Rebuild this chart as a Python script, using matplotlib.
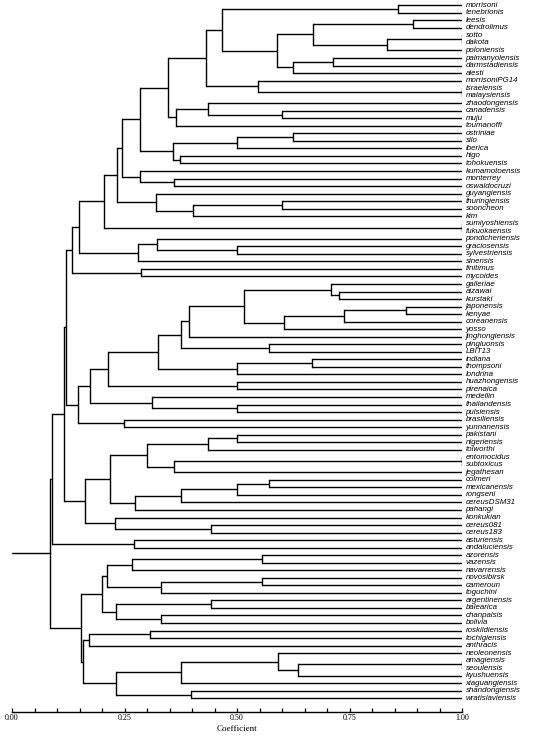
import matplotlib.pyplot as plt
from matplotlib.ticker import MultipleLocator

# leaf order, top to bottom
leaves = ["morrisoni", "tenebrionis", "leesis", "dendrolimus", "sotto", "dakota", "poloniensis",
          "palmanyolensis", "darmstadiensis", "alesti", "morrisoniPG14", "israelensis", "malaysiensis",
          "zhaodongensis", "canadensis", "muju", "toumanoffi", "ostriniae", "silo", "iberica", "higo",
          "tohokuensis", "kumamotoensis", "monterrey", "oswaldocruzi", "guyangiensis", "thuringiensis",
          "sooncheon", "kim", "sumiyoshiensis", "fukuokaensis", "pondicheriensis", "graciosensis",
          "sylvestriensis", "sinensis", "finitimus", "mycoides", "galleriae", "aizawai", "kurstaki",
          "japonensis", "kenyae", "coreanensis", "yosso", "jinghongiensis", "pingluonsis", "LBIT13",
          "indiana", "thompsoni", "londrina", "huazhongensis", "pirenaica", "medellin", "thailandensis",
          "pulsiensis", "brasiliensis", "yunnanensis", "pakistani", "nigeriensis", "tolworthi",
          "entomocidus", "subtoxicus", "jegathesan", "colmeri", "mexicanensis", "rongseni",
          "cereusDSM31", "pahangi", "konkukian", "cereus081", "cereus183", "asturiensis",
          "andaluciensis", "azorensis", "vazensis", "navarrensis", "novosibirsk", "cameroun",
          "toguchini", "argentinensis", "balearica", "chanpaisis", "bolivia", "roskildiensis",
          "tochigiensis", "anthracis", "neoleonensis", "amagiensis", "seoulensis", "kyushuensis",
          "xiaguangiensis", "shandongiensis", "wratislaviensis"]

# (node, left child, right child, similarity coefficient)
merges = [
    ("m1", "morrisoni", "tenebrionis", 0.857),
    ("m2", "leesis", "dendrolimus", 0.890),
    ("m3", "sotto", "dakota", 1.0),
    ("m4", "m3", "poloniensis", 0.833),
    ("m5", "m2", "m4", 0.668),
    ("m6", "palmanyolensis", "darmstadiensis", 0.713),
    ("m7", "m6", "alesti", 0.624),
    ("m8", "m5", "m7", 0.588),
    ("m9", "m1", "m8", 0.467),
    ("m10", "israelensis", "malaysiensis", 1.0),
    ("m11", "morrisoniPG14", "m10", 0.546),
    ("m12", "m9", "m11", 0.430),
    ("m13", "canadensis", "muju", 0.601),
    ("m14", "zhaodongensis", "m13", 0.436),
    ("m15", "m14", "toumanoffi", 0.364),
    ("m16", "m12", "m15", 0.347),
    ("m17", "ostriniae", "silo", 0.624),
    ("m18", "m17", "iberica", 0.499),
    ("m19", "higo", "tohokuensis", 0.373),
    ("m20", "m18", "m19", 0.357),
    ("m21", "m16", "m20", 0.284),
    ("m22", "monterrey", "oswaldocruzi", 0.361),
    ("m23", "kumamotoensis", "m22", 0.284),
    ("m24", "m21", "m23", 0.245),
    ("m25", "thuringiensis", "sooncheon", 0.601),
    ("m26", "m25", "kim", 0.402),
    ("m27", "guyangiensis", "m26", 0.321),
    ("m28", "m24", "m27", 0.234),
    ("m29", "sumiyoshiensis", "fukuokaensis", 1.0),
    ("m30", "m28", "m29", 0.205),
    ("m31", "graciosensis", "sylvestriensis", 0.499),
    ("m32", "pondicheriensis", "m31", 0.322),
    ("m33", "m32", "sinensis", 0.279),
    ("m34", "m30", "m33", 0.149),
    ("m35", "finitimus", "mycoides", 0.286),
    ("m36", "m34", "m35", 0.133),
    ("m37", "aizawai", "kurstaki", 0.727),
    ("m38", "galleriae", "m37", 0.709),
    ("m39", "japonensis", "kenyae", 0.875),
    ("m40", "m39", "coreanensis", 0.737),
    ("m41", "m40", "yosso", 0.604),
    ("m42", "m38", "m41", 0.516),
    ("m43", "m42", "jinghongiensis", 0.394),
    ("m44", "pingluonsis", "LBIT13", 0.570),
    ("m45", "m43", "m44", 0.376),
    ("m46", "indiana", "thompsoni", 0.667),
    ("m47", "m46", "londrina", 0.499),
    ("m48", "m45", "m47", 0.324),
    ("m49", "huazhongensis", "pirenaica", 0.499),
    ("m50", "m48", "m49", 0.214),
    ("m51", "thailandensis", "pulsiensis", 0.499),
    ("m52", "medellin", "m51", 0.312),
    ("m53", "m50", "m52", 0.173),
    ("m54", "brasiliensis", "yunnanensis", 0.249),
    ("m55", "m53", "m54", 0.147),
    ("m56", "m36", "m55", 0.121),
    ("m57", "pakistani", "nigeriensis", 0.499),
    ("m58", "m57", "tolworthi", 0.436),
    ("m59", "entomocidus", "subtoxicus", 1.0),
    ("m60", "m59", "jegathesan", 0.361),
    ("m61", "m58", "m60", 0.301),
    ("m62", "colmeri", "mexicanensis", 0.570),
    ("m63", "m62", "rongseni", 0.499),
    ("m64", "m63", "cereusDSM31", 0.376),
    ("m65", "m64", "pahangi", 0.273),
    ("m66", "m61", "m65", 0.218),
    ("m67", "cereus081", "cereus183", 0.443),
    ("m68", "konkukian", "m67", 0.229),
    ("m69", "m66", "m68", 0.162),
    ("m70", "m56", "m69", 0.115),
    ("m71", "asturiensis", "andaluciensis", 0.270),
    ("m72", "m70", "m71", 0.089),
    ("m73", "azorensis", "vazensis", 0.556),
    ("m74", "m73", "navarrensis", 0.266),
    ("m75", "novosibirsk", "cameroun", 0.556),
    ("m76", "m75", "toguchini", 0.332),
    ("m77", "m74", "m76", 0.210),
    ("m78", "argentinensis", "balearica", 0.443),
    ("m79", "chanpaisis", "bolivia", 0.332),
    ("m80", "m78", "m79", 0.232),
    ("m81", "m77", "m80", 0.199),
    ("m82", "roskildiensis", "tochigiensis", 0.307),
    ("m83", "m82", "anthracis", 0.171),
    ("m84", "amagiensis", "seoulensis", 1.0),
    ("m85", "m84", "kyushuensis", 0.636),
    ("m86", "neoleonensis", "m85", 0.592),
    ("m87", "m86", "xiaguangiensis", 0.376),
    ("m88", "shandongiensis", "wratislaviensis", 0.397),
    ("m89", "m87", "m88", 0.231),
    ("m90", "m83", "m89", 0.158),
    ("m91", "m81", "m90", 0.154),
    ("root", "m72", "m91", 0.085),
]

tick_vals = [0, 0.25, 0.5, 0.75, 1.0]
tick_labels = ['0.00', '0.25', '0.50', '0.75', '1.00']

fig = plt.figure(figsize=(5.6, 7.37), dpi=100)
ax = fig.add_axes([12 / 560, 1 - 711.7 / 737, 450 / 560, 711.7 / 737])

# leaves sit at x = 1.0, one row each
pos = {name: (1.0, i) for i, name in enumerate(leaves)}
lw = 1.0
for node, a, b, c in merges:
    xa, ya = pos[a]
    xb, yb = pos[b]
    ax.plot([c, xa], [ya, ya], color='black', lw=lw, solid_capstyle='butt')
    ax.plot([c, xb], [yb, yb], color='black', lw=lw, solid_capstyle='butt')
    ax.plot([c, c], [ya, yb], color='black', lw=lw, solid_capstyle='projecting')
    pos[node] = (c, (ya + yb) / 2)

# stub on the root
rx, ry = pos["root"]
ax.plot([0, rx], [ry, ry], color='black', lw=lw)

for i, name in enumerate(leaves):
    ax.text(1.0078, i, name, fontsize=5.7, fontstyle='italic', family='Liberation Sans',
            va='center', ha='left', clip_on=False)

ax.set_xlim(0, 1)
ax.set_ylim(92 + 13.4 / 7.533, -5.3 / 7.533)
for s in ['top', 'right', 'left']:
    ax.spines[s].set_visible(False)
ax.spines['bottom'].set_linewidth(1.0)
ax.set_yticks([])
ax.set_xticks(tick_vals)
ax.set_xticklabels(tick_labels, family='Liberation Serif', fontsize=5.8)
ax.xaxis.set_minor_locator(MultipleLocator(0.05))
ax.tick_params(axis='x', which='both', direction='in', length=3, width=0.9, pad=2)
ax.set_xlabel('Coefficient', family='Liberation Serif', fontsize=6.5, labelpad=2)

fig.savefig('out.png', dpi=100)
